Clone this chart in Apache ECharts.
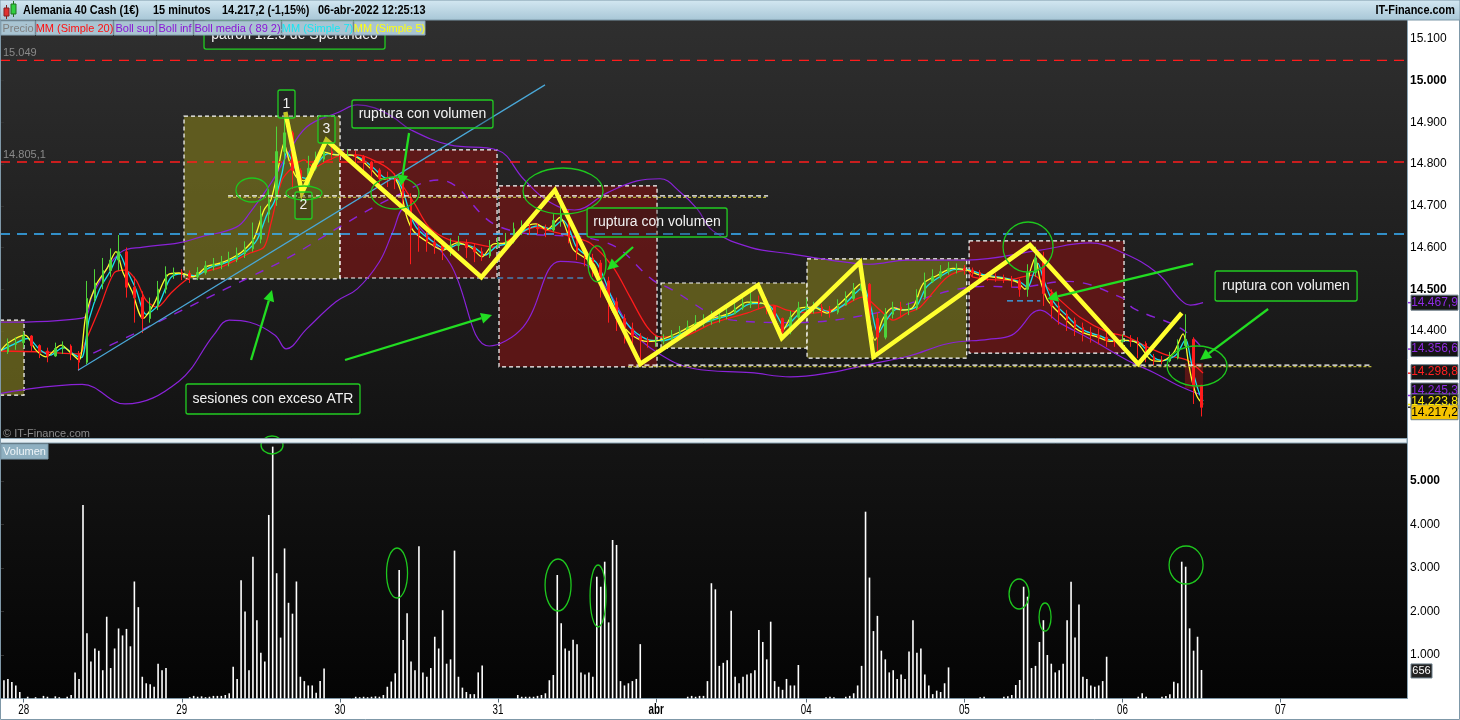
<!DOCTYPE html>
<html><head><meta charset="utf-8">
<script src="https://cdn.jsdelivr.net/npm/echarts@6/dist/echarts.min.js"></script>
<style>html,body{margin:0;padding:0;background:#fff;overflow:hidden}#c{width:1460px;height:720px}</style>
</head><body><div id="c"></div>
<script>
// ---------- DATA ----------
const dayLabels = ['28','29','30','31','abr','04','05','06','07'];
const dayStartSlot = [6,46,86,126,166,204,244,284,324]; // half-hour slot where each day starts
const SLOTS = 357, HOURS = 179;
const priceTicks = [15100,15000,14900,14800,14700,14600,14500,14400];
const priceBold = [15000,14500];
const volTicks = [5000,4000,3000,2000,1000];
const volBold = [5000];

const open0 = 14345;
const close = [
14350,14368,14372,14388,14365,14352,14340,14358,14364,14346,
14325,14478,14515,14545,14570,14590,14505,14480,14430,14460,
14500,14535,14540,14538,14530,14540,14556,14560,14565,14572,
14585,14597,14620,14680,14715,14830,14875,14785,14750,14790,
14812,14830,14825,14822,14822,14818,14805,14786,14766,14765,
14760,14720,14645,14630,14612,14605,14595,14605,14610,14600,
14590,14580,14605,14612,14615,14645,14648,14647,14645,14642,
14665,14680,14625,14590,14575,14563,14520,14470,14430,14405,
14387,14378,14374,14376,14380,14390,14398,14408,14418,14425,
14430,14436,14442,14455,14465,14470,14467,14460,14430,14398,
14433,14455,14457,14457,14450,14445,14462,14478,14498,14512,
14430,14385,14440,14457,14452,14455,14480,14518,14530,14542,
14550,14550,14546,14540,14534,14530,14528,14525,14520,14500,
14540,14575,14490,14460,14440,14425,14408,14396,14390,14385,
14377,14375,14378,14375,14370,14338,14330,14328,14335,14365,
14380,14270,14217];
const high = [
14372,14382,14385,14398,14390,14368,14360,14372,14375,14368,
14352,14520,14548,14575,14598,14630,14600,14530,14495,14480,
14520,14555,14552,14548,14545,14553,14568,14575,14580,14590,
14600,14615,14660,14700,14740,14890,14925,14880,14790,14820,
14830,14848,14845,14838,14835,14832,14822,14808,14790,14782,
14778,14772,14730,14660,14640,14625,14615,14622,14628,14620,
14610,14600,14618,14625,14635,14660,14665,14660,14658,14655,
14680,14702,14690,14630,14600,14585,14570,14530,14480,14440,
14420,14395,14385,14388,14392,14402,14412,14425,14438,14440,
14448,14450,14458,14470,14490,14498,14485,14478,14462,14432,
14448,14470,14478,14470,14465,14460,14476,14495,14515,14525,
14515,14445,14455,14470,14470,14468,14500,14540,14548,14558,
14565,14562,14558,14552,14546,14540,14538,14535,14532,14525,
14560,14602,14590,14500,14470,14450,14432,14420,14410,14405,
14400,14395,14392,14390,14385,14375,14345,14340,14350,14380,
14440,14385,14270];
const low = [
14330,14345,14355,14360,14350,14335,14325,14338,14345,14330,
14305,14320,14470,14500,14530,14545,14480,14420,14395,14420,
14450,14490,14525,14522,14515,14522,14535,14545,14548,14555,
14565,14575,14590,14610,14660,14700,14800,14740,14725,14745,
14785,14805,14810,14805,14808,14800,14785,14770,14748,14745,
14740,14700,14560,14590,14590,14585,14570,14580,14592,14575,
14565,14568,14575,14598,14600,14610,14630,14630,14632,14625,
14638,14650,14610,14570,14555,14530,14480,14420,14400,14370,
14365,14318,14360,14362,14368,14375,14385,14392,14400,14410,
14415,14420,14428,14440,14450,14455,14452,14440,14412,14388,
14392,14428,14440,14442,14435,14432,14440,14460,14472,14495,
14420,14340,14380,14430,14435,14438,14450,14475,14515,14525,
14535,14538,14535,14530,14524,14520,14518,14515,14505,14482,
14482,14530,14460,14430,14415,14400,14388,14375,14372,14368,
14362,14362,14365,14362,14335,14325,14318,14320,14325,14332,
14360,14225,14195];

const volume = [
350,420,450,380,300,150,0,40,0,30,0,60,40,0,50,30,0,40,80,
600,450,4450,1500,850,1150,1100,650,1880,700,1150,1610,1450,1600,1200,2690,2100,500,350,330,270,800,650,700,
0,0,0,0,0,30,60,40,50,30,40,60,60,
60,80,120,730,450,2720,2000,650,3260,1800,1050,850,4220,5790,2880,1400,3450,2200,1950,2690,500,400,300,300,130,400,690,
0,0,0,0,0,0,0,40,30,40,30,40,50,40,
80,270,390,580,2955,1345,1960,850,650,3500,600,500,700,1420,1150,2030,800,900,3400,500,250,150,100,100,600,760,
0,0,0,0,0,0,0,0,80,40,40,40,40,60,80,
120,420,540,2840,1730,1150,1100,1350,1250,600,550,600,500,2800,2570,3145,1750,3644,3530,400,300,350,400,450,1250,
0,0,0,0,0,0,0,0,0,0,0,40,60,40,60,60,400,
2650,2510,750,820,880,2020,500,350,500,550,580,650,1575,1300,900,1766,400,270,200,450,300,300,770,
0,0,0,0,0,0,30,40,30,0,0,40,60,
120,300,750,4295,2780,1550,1900,1100,900,600,650,450,550,450,1080,1800,1050,1150,550,300,100,180,150,350,715,
0,0,0,0,0,0,0,30,40,0,0,0,0,40,50,80,
310,425,2570,2340,700,750,1300,1800,1000,800,600,650,800,1800,2686,1400,2160,500,450,300,270,300,400,960,
0,0,0,0,0,0,0,40,120,40,0,0,0,40,60,
100,385,350,3145,3030,1613,1100,1420,656];

// indicator lines: [hour index, price]
const ma5 = [[0,14350],[1.01,14371],[3.16,14390],[4.55,14354],[5.82,14338],[7.72,14366],[8.98,14347],[9.99,14330],[10.88,14440],[12.15,14510],[13.54,14550],[14.68,14590],[15.56,14540],[16.7,14495],[18.09,14430],[19.48,14465],[21.26,14535],[22.65,14539],[24.42,14530],[26.19,14555],[27.96,14563],[29.35,14575],[30.74,14592],[32.14,14622],[33.4,14690],[34.29,14715],[35.3,14800],[35.93,14850],[36.56,14810],[37.45,14770],[38.46,14760],[39.73,14805],[41.12,14828],[42.51,14822],[44.28,14822],[45.67,14810],[46.94,14788],[48.33,14764],[49.72,14768],[50.61,14740],[51.49,14672],[52.38,14638],[54.28,14611],[56.05,14594],[57.82,14611],[59.59,14600],[60.98,14578],[62.37,14608],[64.14,14612],[65.92,14645],[67.81,14657],[69.2,14643],[70.85,14672],[71.74,14638],[72.5,14596],[73.76,14578],[75.03,14563],[75.91,14525],[76.8,14478],[77.56,14445],[78.82,14412],[80.09,14388],[81.86,14375],[83.5,14378],[86.03,14398],[88.18,14419],[90.21,14431],[92.36,14443],[94.51,14469],[96.53,14466],[97.8,14435],[98.94,14400],[99.95,14430],[101.21,14455],[102.86,14457],[104.63,14443],[106.28,14466],[107.92,14497],[108.81,14512],[109.69,14455],[110.7,14378],[111.72,14430],[112.98,14456],[114.25,14450],[115.51,14457],[116.78,14513],[118.55,14533],[120.57,14550],[122.34,14546],[123.99,14534],[126.52,14527],[128.67,14517],[129.68,14500],[130.31,14543],[130.95,14575],[131.58,14523],[132.46,14476],[133.22,14458],[134.49,14434],[135.75,14411],[137.02,14396],[138.79,14386],[140.44,14375],[142.08,14378],[143.85,14371],[145.5,14332],[146.76,14327],[148.41,14346],[149.67,14393],[150.3,14330],[150.81,14280],[151.44,14243],[152.2,14224]];
const ma7 = [[0,14352],[1.5,14366],[3.5,14382],[5,14356],[6.3,14342],[8,14360],[9.5,14342],[10.3,14336],[11.3,14430],[12.6,14500],[14,14545],[15.1,14585],[16,14548],[17.2,14500],[18.5,14440],[20,14462],[21.6,14528],[23,14537],[24.8,14532],[26.5,14552],[28.3,14562],[29.7,14574],[31.1,14590],[32.5,14618],[33.8,14680],[34.7,14710],[35.7,14780],[36.3,14830],[37,14805],[37.9,14772],[38.9,14765],[40.1,14800],[41.5,14825],[43,14822],[44.7,14821],[46.1,14808],[47.3,14790],[48.7,14767],[50.1,14764],[51,14735],[51.9,14678],[52.8,14645],[54.7,14615],[56.4,14597],[58.2,14608],[60,14600],[61.4,14582],[62.8,14603],[64.5,14611],[66.3,14640],[68.2,14652],[69.6,14645],[71.2,14665],[72.1,14640],[72.9,14602],[74.1,14582],[75.4,14565],[76.3,14532],[77.2,14488],[78,14455],[79.2,14420],[80.5,14395],[82.2,14378],[83.9,14377],[86.4,14395],[88.6,14416],[90.6,14429],[92.8,14441],[94.9,14465],[96.9,14466],[98.2,14440],[99.3,14408],[100.4,14428],[101.6,14450],[103.2,14456],[105,14446],[106.7,14462],[108.3,14492],[109.2,14505],[110.1,14462],[111.1,14395],[112.1,14425],[113.4,14452],[114.6,14451],[115.9,14458],[117.2,14505],[118.9,14530],[120.9,14548],[122.7,14546],[124.4,14535],[126.9,14528],[129,14518],[130,14505],[130.7,14535],[131.3,14562],[132,14525],[132.8,14485],[133.6,14462],[134.9,14438],[136.1,14415],[137.4,14399],[139.2,14388],[140.8,14377],[142.4,14377],[144.2,14370],[145.9,14337],[147.1,14329],[148.8,14343],[150,14380],[150.6,14335],[151.1,14290],[151.7,14252],[152.2,14232]];
const ma20 = [[0,14352],[5.06,14350],[9.99,14345],[10.88,14378],[12.65,14457],[14.42,14539],[15.81,14546],[17.21,14522],[18.47,14474],[19.86,14457],[21.63,14491],[23.53,14522],[25.3,14539],[27.96,14553],[31.63,14587],[33.4,14601],[34.29,14659],[35.68,14762],[37.07,14793],[38.46,14810],[39.73,14793],[41.62,14810],[43.4,14822],[45.17,14822],[47.95,14803],[49.72,14779],[52.38,14707],[54.28,14649],[56.93,14618],[59.59,14611],[62.37,14601],[65.03,14625],[67.81,14649],[69.2,14642],[72.5,14625],[74.65,14611],[77.56,14553],[79.71,14481],[81.86,14410],[83.5,14386],[86.03,14386],[90.21,14419],[94.51,14443],[97.8,14462],[99.57,14450],[102.86,14443],[106.28,14457],[109.18,14481],[111.34,14450],[112.98,14426],[114.75,14443],[116.4,14457],[119.81,14529],[122.34,14546],[123.1,14529],[127.4,14522],[130.69,14534],[132.46,14505],[134.11,14474],[136.64,14433],[140.06,14398],[142.59,14386],[145.12,14362],[147.65,14342],[150.18,14330],[152.2,14299]];
const bollSup = [[0,14421],[10.4,14431],[11.8,14491],[15.3,14589],[18.1,14601],[22.6,14611],[25.3,14625],[29.9,14649],[31.6,14683],[34.3,14755],[36.2,14817],[38.8,14889],[42.9,14925],[45.2,14942],[47.4,14935],[49.7,14913],[52,14882],[56.9,14846],[62.9,14834],[66.2,14765],[69.2,14713],[72.7,14690],[76.8,14731],[80.6,14760],[83.5,14765],[86,14734],[88.2,14693],[90.2,14640],[95,14600],[100,14585],[105,14570],[110,14560],[114.8,14570],[122.3,14570],[131.6,14594],[137.9,14611],[142.1,14587],[146.4,14539],[149.4,14474],[150.6,14462],[152.2,14468]];
const bollInf = [[0,14250],[10.4,14272],[15.8,14225],[22.6,14279],[27.1,14392],[29,14426],[31.6,14421],[34.8,14390],[36.2,14357],[38.8,14405],[42.5,14470],[45.2,14501],[48,14566],[49.7,14638],[51.1,14693],[53,14650],[57,14560],[61.9,14364],[66.2,14410],[70.9,14567],[74,14560],[76.8,14500],[80,14400],[83,14350],[87.7,14310],[95,14300],[100,14290],[105,14300],[110,14320],[115,14340],[120,14370],[125,14380],[128,14390],[131.6,14450],[134,14420],[138,14380],[142.6,14330],[146,14300],[149,14270],[152.2,14245]];
const bollMedia = [[11.8,14347],[15.3,14378],[29,14505],[31.6,14529],[36.6,14577],[43,14650],[49.7,14720],[55.5,14762],[63.3,14649],[76.8,14611],[82.6,14522],[84.4,14505],[92.7,14426],[100,14420],[110,14440],[124.9,14507],[128.7,14505],[135,14519],[142.1,14478],[143.4,14454],[149.4,14406],[152.2,14357]];

// drawn analysis (hour index, price)
const zigzag = [[36.1,14925],[38.2,14731],[41.3,14858],[60.9,14529],[70.2,14738],[81.0,14321],[95.9,14510],[98.9,14383],[108.8,14565],[110.5,14338],[130.3,14606],[144.0,14321],[149.5,14443]];
const trendLine = [[9.87,14306],[68.95,14990]];
const redLevels = [15049, 14805.1];
const blueLevel = 14632.5;
const whiteLevels = [[28.85,97.17,14724],[79.5,173.6,14318]];
const blueSegments = [[62.9,74.0,14527],[127.4,131.6,14472]];
// [h0, h1, priceTop, priceBottom, kind 0=olive 1=red 2=red no border]
const sessionBoxes = [[0,3.04,14426,14246,0],[23.28,43.02,14915,14525,0],[43.02,62.88,14834,14527,1],[63.13,83.12,14748,14314,1],[83.63,102.1,14515,14359,0],[102.1,122.3,14573,14335,0],[122.6,142.2,14616,14347,1],[149.9,152.2,14323,14262,2]];
// annotation text boxes: [text, h, priceTop, widthPx, heightPx]
const notes = [['patrón 1.2.3 de Sperandeo',25.81,15143,181,28],['1',35.17,14977.7,17,28],['2',37.32,14733.2,17,27],['3',40.23,14915.4,17,27],['ruptura con volumen',44.53,14953.8,141,28],['ruptura con volumen',74.27,14694.8,140,29],['ruptura con volumen',153.72,14543.8,142,30],['sesiones con exceso ATR',23.53,14272.9,174,30]];
const arrows = [[[31.76,14330.4],[34.41,14498.2]],[[43.65,14330.4],[62.25,14438.3]],[[51.75,14874.6],[50.73,14747.6]],[[80.09,14601.3],[76.8,14546.2]],[[150.94,14561],[132.46,14476.6]],[[160.43,14452.7],[151.82,14330.4]]];
// ellipses: [h, price, rx, ry]
const priceRings = [[31.88,14738,16,12],[38.46,14730.8,18,7],[49.97,14730.8,24,16],[71.23,14735.6,40,23],[75.53,14561,9,18],[130.06,14601.3,25,25],[151.44,14316,30,20]];
// ellipses in volume pane: [slot, volume, rx, ry]
const volRings = [[68.83,5828,11,9],[100.46,2885,10.5,25],[141.2,2609,13,26],[151.32,2356,8,31],[257.84,2402,10,15],[264.42,1874,6,14],[300.1,3069,17,19]];
// last values shown on the price scale: [value, textColor, bg, offsetPx]
const lastValues = [[14467.9,'#8d2be0','#151515',0],[14356.6,'#8d2be0','#151515',0],[14298.8,'#ff2020','#151515',-1],[14245.3,'#8d2be0','#151515',-5],[14223.8,'#ffee00','#151515',-3],[14217.2,'#000000','#f5c400',5]];
const lastVolume = 656;

// ---------- CHART ----------
const fmtK = n => String(n).replace(/\B(?=(\d{3})+(?!\d))/g,'.');
const fmtP = v => { const s = v.toFixed(1).split('.'); return fmtK(s[0]) + ',' + s[1]; };
const candle = close.map((c,i)=>[i===0?open0:close[i-1], c, low[i], high[i]]);
const hourCats = Array.from({length:HOURS},(_,i)=>String(i));
const slotCats = Array.from({length:SLOTS},(_,i)=>String(i));
const FONT = 'Liberation Sans, Arial, sans-serif';

const chart = echarts.init(document.getElementById('c'));
const PMIN = 14143.4, PMAX = 15109.6;

function lineS(data, color, w, extra){ return Object.assign({type:'line', xAxisIndex:1, yAxisIndex:0, data, showSymbol:false, symbol:'none', silent:true, lineStyle:{color, width:w}, z:3, animation:false}, extra||{}); }

const series = [
  {type:'custom', xAxisIndex:1, yAxisIndex:0, z:1, silent:true, data:sessionBoxes, encode:{x:[0,1],y:[2,3]},
   renderItem:(p,api)=>{ const a=api.coord([api.value(0),api.value(2)]), b=api.coord([api.value(1),api.value(3)]); const k=api.value(4);
     return {type:'rect', shape:{x:a[0],y:a[1],width:b[0]-a[0],height:b[1]-a[1]},
       style:{fill: k===0?'rgba(112,106,30,0.78)':'rgba(110,22,22,0.78)', stroke: k===2?null:'#ffffff', lineWidth:1.2, lineDash:[4,3]}}; }},
  lineS(bollSup,'#8a22d8',1.2,{smooth:0.4}),
  lineS(bollInf,'#8a22d8',1.2,{smooth:0.4}),
  lineS(bollMedia,'#8a22d8',1.4,{smooth:0.4, lineStyle:{color:'#8a22d8',width:1.4,type:[9,9]}}),
  {type:'candlestick', xAxisIndex:0, yAxisIndex:0, data:candle, barWidth:2, silent:true, z:3,
   itemStyle:{color:'#4fd43a', color0:'#ff1c1c', borderColor:'#4fd43a', borderColor0:'#ff1c1c', borderWidth:1}},
  lineS(ma20,'#ff1c1c',1.3,{smooth:0.3}),
  lineS(ma7,'#19e0ee',1.3,{smooth:0.3}),
  lineS(ma5,'#ffff2a',1.3,{smooth:0.3}),
  lineS([[0,redLevels[0]],[178,redLevels[0]]],'#ff1c1c',1.3,{lineStyle:{color:'#ff1c1c',width:1.3,type:[10,7]}}),
  lineS([[0,redLevels[1]],[178,redLevels[1]]],'#ff1c1c',1.3,{lineStyle:{color:'#ff1c1c',width:1.3,type:[10,7]}}),
  lineS([[0,blueLevel],[178,blueLevel]],'#38b4ff',1.3,{lineStyle:{color:'#38b4ff',width:1.3,type:[10,7]}}),
  ...blueSegments.map(s=>lineS([[s[0],s[2]],[s[1],s[2]]],'#38b4ff',1.2,{lineStyle:{color:'#38b4ff',width:1.2,type:[6,4]}})),
  ...whiteLevels.map(s=>lineS([[s[0],s[2]-3.5],[s[1],s[2]-3.5]],'#b8b23a',1,{lineStyle:{color:'#b8b23a',width:1.2,type:[3,2]},z:4})),
  ...whiteLevels.map(s=>lineS([[s[0],s[2]],[s[1],s[2]]],'#ffffff',1.3,{lineStyle:{color:'#ffffff',width:1.3,type:[5,3]},z:4})),
  lineS(trendLine,'#4aa8d8',1.2,{z:4}),
  lineS(zigzag,'#ffff2e',4.5,{z:6, lineStyle:{color:'#ffff2e',width:4.5,join:'miter'}}),
  {type:'bar', xAxisIndex:2, yAxisIndex:1, data:volume, barWidth:1.6, silent:true, itemStyle:{color:'#ffffff'}, animation:false}
];

chart.setOption({
  animation:false,
  backgroundColor:'#ffffff',
  grid:[{left:0,right:53,top:35,height:403},{left:0,right:53,top:443,height:255.5}],
  xAxis:[
    {type:'category', gridIndex:0, data:hourCats, boundaryGap:false, show:false},
    {type:'value', gridIndex:0, min:0, max:HOURS-1, show:false},
    {type:'category', gridIndex:1, data:slotCats, boundaryGap:false,
     axisLine:{show:true, lineStyle:{color:'#7f98a8', width:1}},
     axisTick:{show:true, interval:(i)=>dayStartSlot.indexOf(i)>=0, length:4, lineStyle:{color:'#5a6e7a'}},
     axisLabel:{show:false},
     splitLine:{show:false}},
    {type:'value', gridIndex:1, min:0, max:SLOTS-1, show:false}
  ],
  yAxis:[
    {type:'value', gridIndex:0, position:'right', min:PMIN, max:PMAX, splitLine:{show:false}, axisLine:{show:false},
     axisTick:{show:true, customValues:priceTicks, length:4, lineStyle:{color:'#333'}},
     axisLabel:{customValues:priceTicks, margin:3, fontFamily:FONT, fontSize:12, color:'#000',
       formatter:v=> priceBold.indexOf(v)>=0 ? '{b|'+fmtK(v)+'}' : fmtK(v), rich:{b:{fontWeight:'bold',fontSize:12,fontFamily:FONT,color:'#000'}}}},
    {type:'value', gridIndex:1, position:'right', min:0, max:5874, splitLine:{show:false}, axisLine:{show:false},
     axisTick:{show:true, customValues:volTicks, length:4, lineStyle:{color:'#333'}},
     axisLabel:{customValues:volTicks, margin:3, fontFamily:FONT, fontSize:12, color:'#000',
       formatter:v=> volBold.indexOf(v)>=0 ? '{b|'+fmtK(v)+'}' : fmtK(v), rich:{b:{fontWeight:'bold',fontSize:12,fontFamily:FONT,color:'#000'}}}}
  ],
  series
});

// ---------- OVERLAY GRAPHICS ----------
const P = (h,p)=>chart.convertToPixel({xAxisIndex:1,yAxisIndex:0},[h,p]);
const V = (s,v)=>chart.convertToPixel({xAxisIndex:3,yAxisIndex:1},[s,v]);
const g = [];
const sText = (txt, x, y, font, fill, align, sx, z) => ({type:'text', z:z||62, x, y, scaleX:sx||1, style:{text:txt, x:0, y:0, align:align||'left', verticalAlign:'middle', font, fill}});
g.push({type:'rect', z:-10, shape:{x:0,y:20,width:1407,height:419}, style:{fill:new echarts.graphic.LinearGradient(0,0,0,1,[{offset:0,color:'#2f2f2f'},{offset:1,color:'#121212'}])}});
g.push({type:'rect', z:-10, shape:{x:0,y:443,width:1407,height:256}, style:{fill:new echarts.graphic.LinearGradient(0,0,0,1,[{offset:0,color:'#141414'},{offset:1,color:'#040404'}])}});
g.push({type:'rect', z:50, shape:{x:0,y:438.5,width:1407,height:4.5}, style:{fill:'#e8f0f4', stroke:'#8aa4b4', lineWidth:1}});
g.push({type:'line', z:50, shape:{x1:1407.5,y1:20,x2:1407.5,y2:699}, style:{stroke:'#8aa4b4', lineWidth:1}});
g.push({type:'rect', z:50, shape:{x:0.5,y:0.5,width:1459,height:719}, style:{fill:null, stroke:'#7f98a8', lineWidth:1}});
// header
g.push({type:'rect', z:60, shape:{x:0,y:0,width:1460,height:20}, style:{fill:new echarts.graphic.LinearGradient(0,0,0,1,[{offset:0,color:'#d4e8f2'},{offset:1,color:'#a7c6d6'}]), stroke:'#7d98a8', lineWidth:1}});
g.push({type:'line', z:61, shape:{x1:6.5,y1:5,x2:6.5,y2:19}, style:{stroke:'#802020'}});
g.push({type:'rect', z:61, shape:{x:4,y:8,width:5,height:8}, style:{fill:'#e03030', stroke:'#802020'}});
g.push({type:'line', z:61, shape:{x1:13.5,y1:1,x2:13.5,y2:17}, style:{stroke:'#207020'}});
g.push({type:'rect', z:61, shape:{x:11,y:4,width:5,height:10}, style:{fill:'#30d040', stroke:'#207020'}});
[['Alemania 40 Cash (1€)',23],['15 minutos',153],['14.217,2 (-1,15%)',222],['06-abr-2022 12:25:13',318]].forEach(t=>{
  g.push(sText(t[0], t[1], 10.5, 'bold 13px '+FONT, '#000', 'left', 0.84));
});
g.push(sText('IT-Finance.com', 1455, 10.5, 'bold 13px '+FONT, '#000', 'right', 0.84));
// legend tabs
[['Precio',1,35,'#808080'],['MM (Simple 20)',36,113,'#ff1010'],['Boll sup',114,156,'#8a16d6'],['Boll inf',157,193,'#8a16d6'],['Boll media ( 89 2)',194,281,'#8a16d6'],['MM (Simple 7)',282,353,'#18e6f2'],['MM (Simple 5)',354,425,'#ffff10']].forEach(t=>{
  g.push({type:'rect', z:60, shape:{x:t[1],y:21,width:t[2]-t[1],height:14}, style:{fill:'#a9c4d2', stroke:'#8aa6b6', lineWidth:1}});
  g.push({type:'text', z:61, style:{text:t[0], x:(t[1]+t[2])/2, y:28.5, align:'center', verticalAlign:'middle', font:'11px '+FONT, fill:t[3]}});
});
// day labels of the time axis (placed through the volume axis scale)
dayStartSlot.forEach((s,k)=>{ const x=V(s,0)[0];
  g.push(sText(dayLabels[k], x, 710.5, (dayLabels[k]==='abr'?'bold ':'')+'14px '+FONT, '#000', 'center', 0.7, 45));
});
g.push({type:'text', z:20, style:{text:fmtK(redLevels[0]), x:3, y:P(0,redLevels[0])[1]-7, verticalAlign:'middle', font:'11px '+FONT, fill:'#8a8a8a'}});
g.push({type:'text', z:20, style:{text:fmtP(redLevels[1]), x:3, y:P(0,redLevels[1])[1]-7, verticalAlign:'middle', font:'11px '+FONT, fill:'#8a8a8a'}});
g.push({type:'text', z:20, style:{text:'© IT-Finance.com', x:3, y:434, verticalAlign:'middle', font:'11px '+FONT, fill:'#8c8c8c'}});
notes.forEach(n=>{ const a=P(n[1],n[2]);
  g.push({type:'rect', z:30, shape:{x:a[0],y:a[1],width:n[3],height:n[4],r:2}, style:{fill:'rgba(20,20,20,0.25)', stroke:'#22cc22', lineWidth:1.3}});
  g.push({type:'text', z:31, style:{text:n[0], x:a[0]+n[3]/2, y:a[1]+n[4]/2, align:'center', verticalAlign:'middle', font:'14px '+FONT, fill:'#f2f2f2'}});
});
priceRings.forEach(r=>{ const c=P(r[0],r[1]); g.push({type:'ellipse', z:30, shape:{cx:c[0],cy:c[1],rx:r[2],ry:r[3]}, style:{fill:null, stroke:'#1ec81e', lineWidth:1.3}}); });
volRings.forEach(r=>{ const c=V(r[0],r[1]); g.push({type:'ellipse', z:30, shape:{cx:c[0],cy:c[1],rx:r[2],ry:r[3]}, style:{fill:null, stroke:'#1ec81e', lineWidth:1.3}}); });
arrows.forEach(ar=>{ const p0=P(ar[0][0],ar[0][1]), p1=P(ar[1][0],ar[1][1]);
  const dx=p1[0]-p0[0], dy=p1[1]-p0[1], L=Math.hypot(dx,dy), ux=dx/L, uy=dy/L, hl=11, hw=5.5;
  const bx=p1[0]-ux*hl, by=p1[1]-uy*hl;
  g.push({type:'line', z:32, shape:{x1:p0[0],y1:p0[1],x2:bx,y2:by}, style:{stroke:'#22dd22', lineWidth:2.3}});
  g.push({type:'polygon', z:32, shape:{points:[[p1[0],p1[1]],[bx-uy*hw,by+ux*hw],[bx+uy*hw,by-ux*hw]]}, style:{fill:'#22dd22'}});
});
g.push({type:'rect', z:55, shape:{x:1,y:444,width:47,height:15}, style:{fill:'#8fb0c1', stroke:'#7d9aab'}});
g.push({type:'text', z:56, style:{text:'Volumen', x:24.5, y:451.5, align:'center', verticalAlign:'middle', font:'11px '+FONT, fill:'#eef4f8'}});
lastValues.forEach(l=>{ const y0=P(0,l[0])[1], y=y0+l[3];
  g.push({type:'line', z:40, shape:{x1:1407,y1:y0,x2:1411,y2:y0}, style:{stroke:l[1]==='#000000'?'#333':l[1], lineWidth:1.5}});
  g.push({type:'rect', z:41, shape:{x:1411,y:y-7.5,width:47,height:15}, style:{fill:l[2], stroke:'#6d7f8b', lineWidth:1}});
  g.push({type:'text', z:42, style:{text:fmtP(l[0]), x:1434.5, y:y, align:'center', verticalAlign:'middle', font:'12px '+FONT, fill:l[1]}});
});
{ const y=V(0,lastVolume)[1]+1;
  g.push({type:'rect', z:41, shape:{x:1411,y:y-7,width:21,height:14}, style:{fill:'#222', stroke:'#6d7f8b'}});
  g.push({type:'text', z:42, style:{text:String(lastVolume), x:1421.5, y:y, align:'center', verticalAlign:'middle', font:'11px '+FONT, fill:'#fff'}}); }

chart.setOption({graphic:{elements:g}});
</script></body></html>
